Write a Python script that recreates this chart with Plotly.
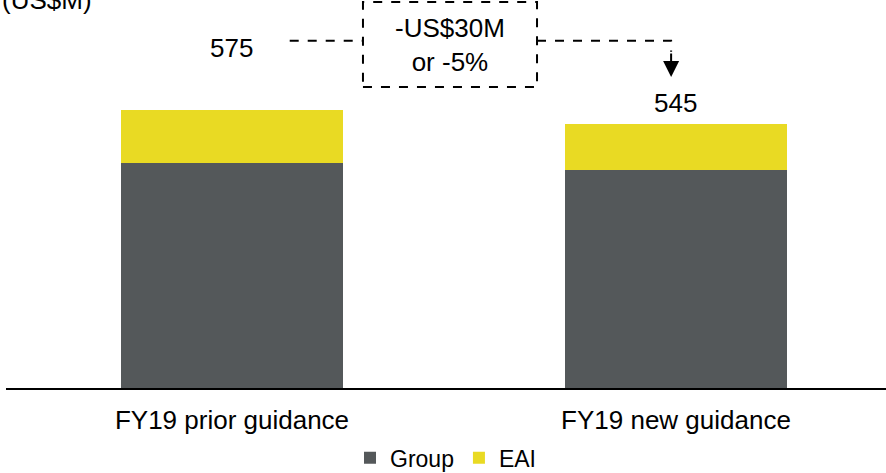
import plotly.graph_objects as go

categories = ["FY19 prior guidance", "FY19 new guidance"]
group_vals = [465, 450]
eai_vals = [110, 95]
series_names = ["Group", "EAI"]
unit_label = "(US$M)"

GRAY = "#54585A"
YELLOW = "#E9DA23"
FONT = "Liberation Sans, Arial, sans-serif"

totals = [g + e for g, e in zip(group_vals, eai_vals)]
diff = totals[1] - totals[0]
pct = round(diff / totals[0] * 100)

xs = [0, 1]

fig = go.Figure()
fig.add_trace(go.Bar(x=xs, y=group_vals, name=series_names[0], marker=dict(color=GRAY, line=dict(width=0)), width=0.5))
fig.add_trace(go.Bar(x=xs, y=eai_vals, name=series_names[1], marker=dict(color=YELLOW, line=dict(width=0)), width=0.5))

# connector geometry (data units)
y_line = 718
fig.add_shape(type="line", x0=0.13, x1=0.295, y0=y_line, y1=y_line, line=dict(color="black", width=2, dash="dash"))
fig.add_shape(type="rect", x0=0.295, x1=0.687, y0=622, y1=798, line=dict(color="black", width=2, dash="dash"), fillcolor="rgba(0,0,0,0)")
fig.add_shape(type="path", path=f"M 0.687 {y_line} L 0.989 {y_line} L 0.989 695", line=dict(color="black", width=2, dash="dash"))

annotations = [
    dict(x=0, y=703, text=str(totals[0]), showarrow=False, font=dict(size=26, color="black")),
    dict(x=1, y=589, text=str(totals[1]), showarrow=False, font=dict(size=26, color="black")),
    dict(x=0.491, y=709, text=f"-US${abs(diff)}M<br>or {pct}%", showarrow=False, font=dict(size=26, color="black")),
    dict(x=0.989, y=643, ax=0, ay=-25, text="", showarrow=True, arrowhead=2, arrowsize=1.6, arrowwidth=2, arrowcolor="black"),
    dict(xref="paper", yref="paper", x=-0.0068, y=0.955, xanchor="left", yanchor="bottom", text=unit_label, showarrow=False, font=dict(size=26, color="black")),
]

fig.update_layout(
    barmode="stack",
    width=886, height=473,
    margin=dict(l=6, r=0, t=0, b=85, autoexpand=False),
    paper_bgcolor="white", plot_bgcolor="white",
    font=dict(family=FONT, color="black"),
    annotations=annotations,
    showlegend=True,
    legend=dict(orientation="h", x=0.5, xanchor="center", y=-0.18, yanchor="middle", font=dict(size=23), itemwidth=30, traceorder="normal"),
    xaxis=dict(range=[-0.509, 1.473], tickvals=xs, ticktext=categories, tickfont=dict(size=26), showline=True, linecolor="black", linewidth=2, showgrid=False, zeroline=False, ticks="outside", ticklen=8, tickcolor="white"),
    yaxis=dict(range=[0, 802], visible=False, showgrid=False, zeroline=False),
)

fig.write_html("out.html", config={"displayModeBar": False},
               post_script="document.body.style.margin='0';document.body.style.overflow='hidden';")
